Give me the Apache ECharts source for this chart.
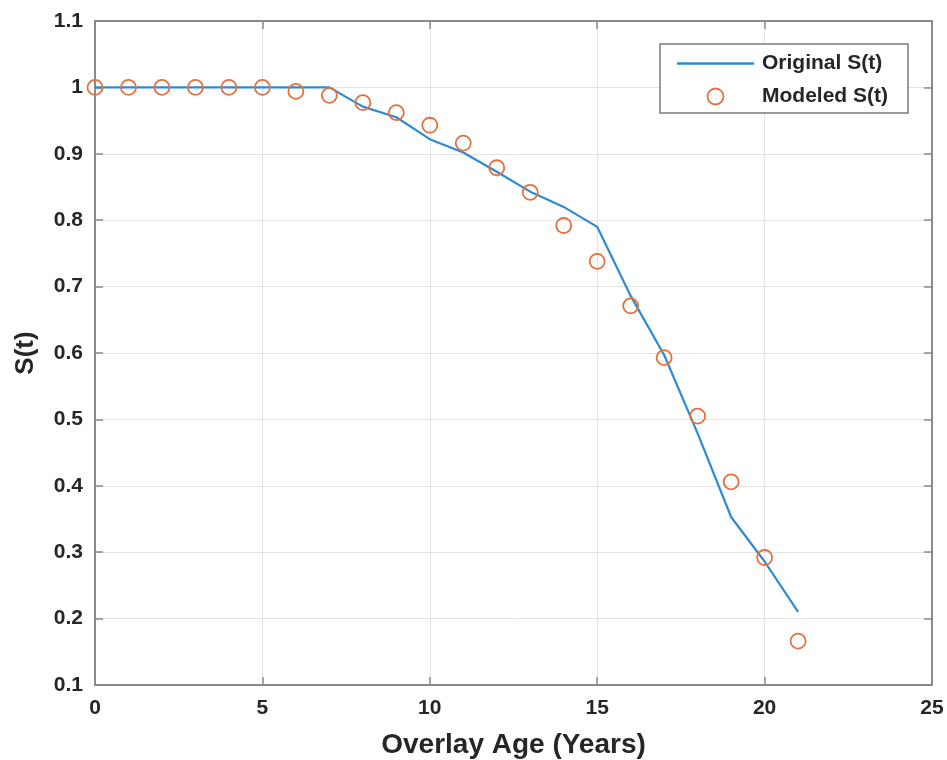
<!DOCTYPE html>
<html>
<head>
<meta charset="utf-8">
<script src="https://cdn.jsdelivr.net/npm/echarts@6/dist/echarts.min.js"></script>
<style>
html,body{margin:0;padding:0;background:#fff;}
#chart{width:947px;height:760px;}
</style>
</head>
<body>
<div id="chart"></div>
<script>
const years = [0,1,2,3,4,5,6,7,8,9,10,11,12,13,14,15,16,17,18,19,20,21];
const originalS = [1,1,1,1,1,1,1,1,0.971,0.955,0.922,0.902,0.873,0.843,0.820,0.790,0.686,0.597,0.479,0.353,0.286,0.210];
const modeledS = [1,1,1,1,1,1,0.994,0.988,0.977,0.962,0.943,0.916,0.879,0.842,0.792,0.738,0.671,0.593,0.505,0.406,0.292,0.166];
const seriesNames = ['Original S(t)', 'Modeled S(t)'];
const xTitle = 'Overlay Age (Years)';
const yTitle = 'S(t)';

const font = '"Liberation Sans", Arial, sans-serif';
const axisCol = '#8a8a8a';
const textCol = '#262626';
const lineCol = '#2e8bd2';
const circCol = '#e4703e';

const chart = echarts.init(document.getElementById('chart'));
const baseX = {
  type: 'value', min: 0, max: 25, interval: 5,
  axisLine: {show: true, onZero: false, lineStyle: {color: axisCol, width: 2}},
  axisTick: {show: true, inside: true, length: 8, lineStyle: {color: axisCol, width: 1.5}},
  splitLine: {show: false}
};
const baseY = {
  type: 'value', min: 0.1, max: 1.1, interval: 0.1,
  axisLine: {show: true, onZero: false, lineStyle: {color: axisCol, width: 2}},
  axisTick: {show: true, inside: true, length: 8, lineStyle: {color: axisCol, width: 1.5}},
  splitLine: {show: false}
};
chart.setOption({
  animation: false,
  backgroundColor: '#fff',
  grid: {left: 95, right: 15, top: 21, bottom: 75, containLabel: false, outerBoundsMode: 'none'},
  legend: {
    right: 39, top: 44,
    orient: 'vertical',
    backgroundColor: '#fff',
    borderColor: '#7a7a7a', borderWidth: 1.5, borderRadius: 0,
    padding: [9, 20, 6, 17],
    itemGap: 12,
    itemWidth: 77, itemHeight: 16,
    symbolKeepAspect: true,
    textStyle: {fontFamily: font, fontWeight: 'bold', fontSize: 21, color: textCol, padding: [0, 0, 0, 3]},
    data: [
      {name: seriesNames[0], icon: 'path://M0,0 L77,0 L77,2.5 L0,2.5 Z', itemStyle: {color: lineCol}},
      {name: seriesNames[1], icon: 'circle', itemStyle: {color: 'rgba(0,0,0,0)', borderColor: circCol, borderWidth: 1.8}}
    ]
  },
  xAxis: [
    Object.assign({}, baseX, {
      position: 'bottom',
      name: xTitle, nameLocation: 'middle', nameGap: 46,
      nameTextStyle: {fontFamily: font, fontWeight: 'bold', fontSize: 28, color: textCol},
      axisLabel: {fontFamily: font, fontWeight: 'bold', fontSize: 21, color: textCol, margin: 13},
      splitLine: {show: true, lineStyle: {color: '#e3e3e3', width: 1}}
    }),
    Object.assign({}, baseX, {position: 'top', axisLabel: {show: false}})
  ],
  yAxis: [
    Object.assign({}, baseY, {
      position: 'left',
      name: yTitle, nameLocation: 'middle', nameGap: 56, nameRotate: 90,
      nameTextStyle: {fontFamily: font, fontWeight: 'bold', fontSize: 26, color: textCol},
      axisLabel: {fontFamily: font, fontWeight: 'bold', fontSize: 21, color: textCol, margin: 12,
        formatter: v => String(Math.round(v * 10) / 10)},
      splitLine: {show: true, lineStyle: {color: '#e3e3e3', width: 1}}
    }),
    Object.assign({}, baseY, {position: 'right', axisLabel: {show: false}})
  ],
  series: [
    {
      name: seriesNames[0], type: 'line',
      data: years.map((x, i) => [x, originalS[i]]),
      symbol: 'none',
      lineStyle: {color: lineCol, width: 2.2},
      itemStyle: {color: lineCol},
      z: 3
    },
    {
      name: seriesNames[1], type: 'scatter',
      data: years.map((x, i) => [x, modeledS[i]]),
      symbol: 'circle', symbolSize: 15,
      itemStyle: {color: 'rgba(0,0,0,0)', borderColor: circCol, borderWidth: 1.8, opacity: 1},
      z: 4
    }
  ]
});
</script>
</body>
</html>
